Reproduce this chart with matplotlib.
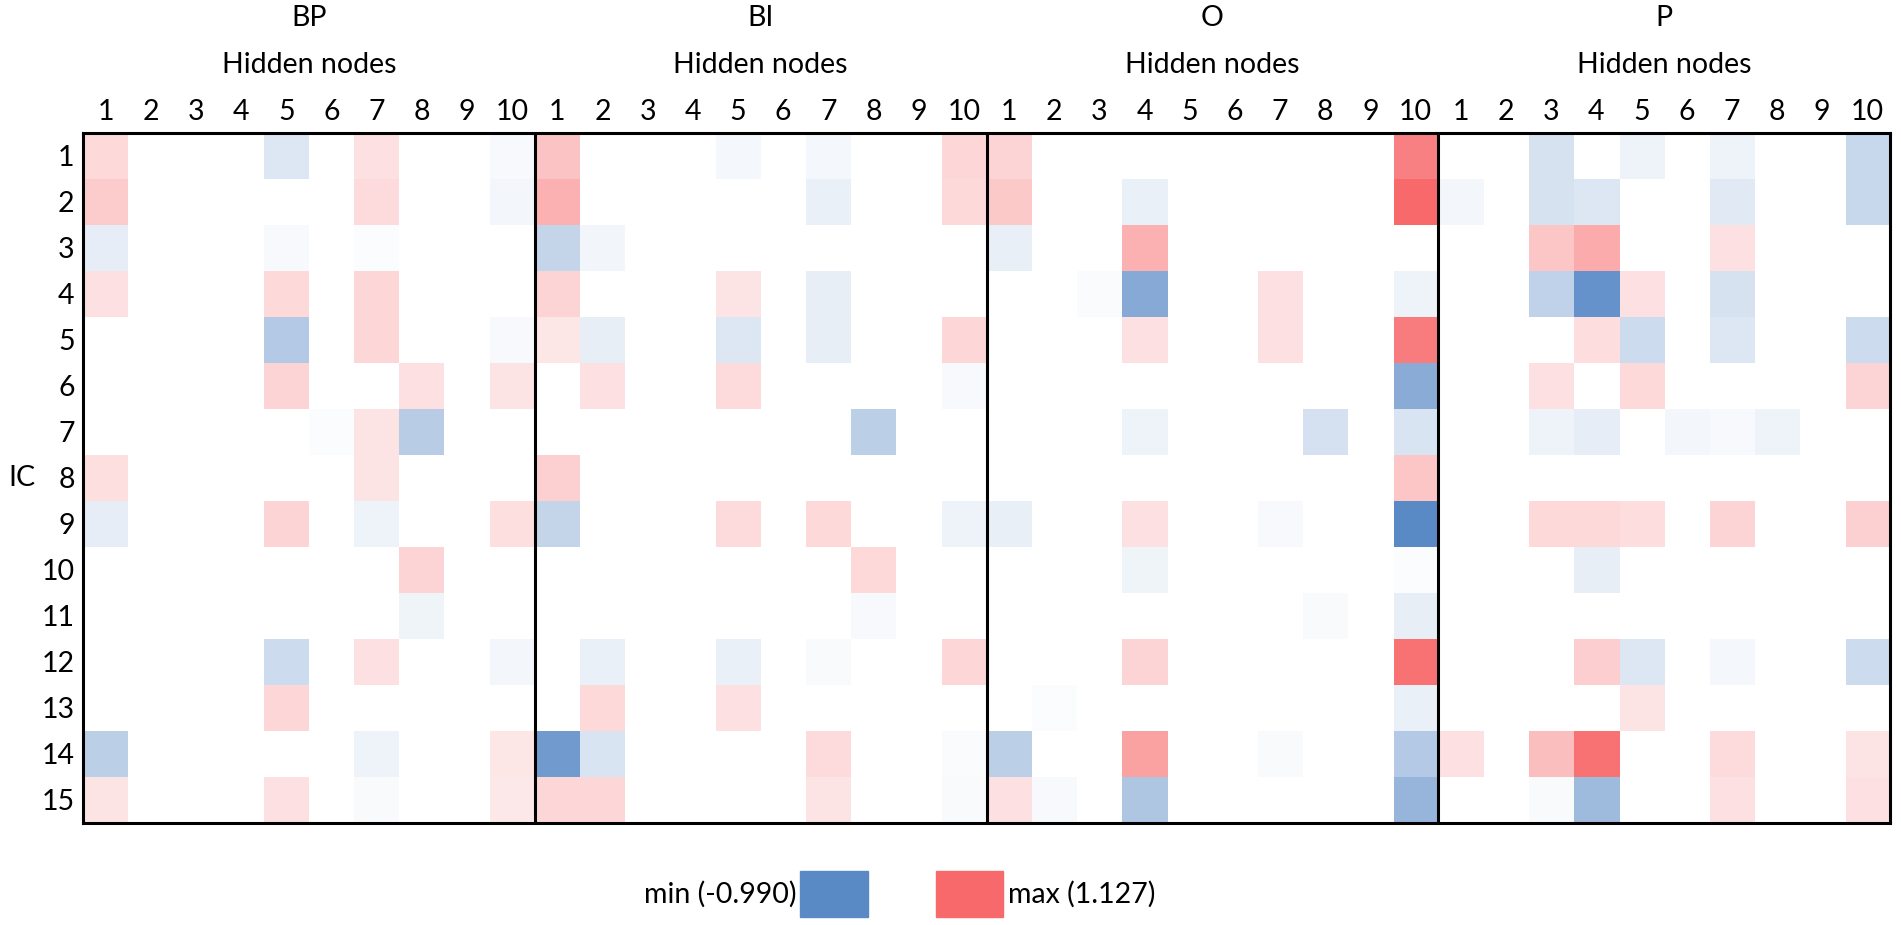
import matplotlib
matplotlib.use("Agg")
import matplotlib.pyplot as plt
import matplotlib.colors as mcolors
from matplotlib.patches import Rectangle
import numpy as np

plt.rcParams['font.family'] = ['Lato', 'DejaVu Sans']

# data, rows = IC 1..15, columns = hidden nodes 1..10
panels = ['BP', 'BI', 'O', 'P']
hidden_nodes = [str(i) for i in range(1, 11)]
ic_labels = [str(i) for i in range(1, 16)]
vmin, vmax = -0.990, 1.127

bp = [
    [0.28, 0, 0, 0, -0.20, 0, 0.22, 0, 0, -0.05],
    [0.38, 0, 0, 0, 0, 0, 0.26, 0, 0, -0.07],
    [-0.15, 0, 0, 0, -0.05, 0, -0.02, 0, 0, 0],
    [0.22, 0, 0, 0, 0.28, 0, 0.30, 0, 0, 0],
    [0, 0, 0, 0, -0.45, 0, 0.30, 0, 0, -0.05],
    [0, 0, 0, 0, 0.32, 0, 0, 0.22, 0, 0.20],
    [0, 0, 0, 0, 0, -0.02, 0.20, -0.42, 0, 0],
    [0.24, 0, 0, 0, 0, 0, 0.20, 0, 0, 0],
    [-0.15, 0, 0, 0, 0.32, 0, -0.10, 0, 0, 0.24],
    [0, 0, 0, 0, 0, 0, 0, 0.32, 0, 0],
    [0, 0, 0, 0, 0, 0, 0, -0.09, 0, 0],
    [0, 0, 0, 0, -0.30, 0, 0.22, 0, 0, -0.07],
    [0, 0, 0, 0, 0.30, 0, 0, 0, 0, 0],
    [-0.40, 0, 0, 0, 0, 0, -0.10, 0, 0, 0.18],
    [0.20, 0, 0, 0, 0.22, 0, -0.04, 0, 0, 0.17],
]
bi = [
    [0.45, 0, 0, 0, -0.06, 0, -0.06, 0, 0, 0.30],
    [0.58, 0, 0, 0, 0, 0, -0.12, 0, 0, 0.28],
    [-0.35, -0.08, 0, 0, 0, 0, 0, 0, 0, 0],
    [0.32, 0, 0, 0, 0.20, 0, -0.14, 0, 0, 0],
    [0.18, -0.14, 0, 0, -0.20, 0, -0.14, 0, 0, 0.30],
    [0, 0.22, 0, 0, 0.26, 0, 0, 0, 0, -0.05],
    [0, 0, 0, 0, 0, 0, 0, -0.40, 0, 0],
    [0.35, 0, 0, 0, 0, 0, 0, 0, 0, 0],
    [-0.35, 0, 0, 0, 0.26, 0, 0.28, 0, 0, -0.10],
    [0, 0, 0, 0, 0, 0, 0, 0.28, 0, 0],
    [0, 0, 0, 0, 0, 0, 0, -0.05, 0, 0],
    [0, -0.12, 0, 0, -0.12, 0, -0.04, 0, 0, 0.30],
    [0, 0.28, 0, 0, 0.22, 0, 0, 0, 0, 0],
    [-0.85, -0.22, 0, 0, 0, 0, 0.26, 0, 0, -0.03],
    [0.30, 0.30, 0, 0, 0, 0, 0.20, 0, 0, -0.04],
]
o = [
    [0.32, 0, 0, 0, 0, 0, 0, 0, 0, 0.95],
    [0.40, 0, 0, -0.12, 0, 0, 0, 0, 0, 1.127],
    [-0.13, 0, 0, 0.58, 0, 0, 0, 0, 0, 0],
    [0, 0, -0.03, -0.72, 0, 0, 0.22, 0, 0, -0.10],
    [0, 0, 0, 0.22, 0, 0, 0.22, 0, 0, 0.98],
    [0, 0, 0, 0, 0, 0, 0, 0, 0, -0.70],
    [0, 0, 0, -0.10, 0, 0, 0, -0.25, 0, -0.22],
    [0, 0, 0, 0, 0, 0, 0, 0, 0, 0.42],
    [-0.13, 0, 0, 0.22, 0, 0, -0.05, 0, 0, -0.99],
    [0, 0, 0, -0.09, 0, 0, 0, 0, 0, -0.02],
    [0, 0, 0, 0, 0, 0, 0, -0.04, 0, -0.14],
    [0, 0, 0, 0.32, 0, 0, 0, 0, 0, 1.05],
    [0, -0.02, 0, 0, 0, 0, 0, 0, 0, -0.12],
    [-0.40, 0, 0, 0.70, 0, 0, -0.04, 0, 0, -0.45],
    [0.22, -0.05, 0, -0.48, 0, 0, 0, 0, 0, -0.62],
]
p = [
    [0, 0, -0.24, 0, -0.10, 0, -0.10, 0, 0, -0.32],
    [-0.07, 0, -0.24, -0.20, 0, 0, -0.18, 0, 0, -0.32],
    [0, 0, 0.42, 0.62, 0, 0, 0.22, 0, 0, 0],
    [0, 0, -0.38, -0.92, 0.22, 0, -0.24, 0, 0, 0],
    [0, 0, 0, 0.25, -0.30, 0, -0.20, 0, 0, -0.30],
    [0, 0, 0.22, 0, 0.28, 0, 0, 0, 0, 0.32],
    [0, 0, -0.10, -0.15, 0, -0.07, -0.05, -0.10, 0, 0],
    [0, 0, 0, 0, 0, 0, 0, 0, 0, 0],
    [0, 0, 0.28, 0.28, 0.25, 0, 0.32, 0, 0, 0.35],
    [0, 0, 0, -0.14, 0, 0, 0, 0, 0, 0],
    [0, 0, 0, 0, 0, 0, 0, 0, 0, 0],
    [0, 0, 0, 0.36, -0.20, 0, -0.06, 0, 0, -0.30],
    [0, 0, 0, 0, 0.20, 0, 0, 0, 0, 0],
    [0.22, 0, 0.48, 1.05, 0, 0, 0.26, 0, 0, 0.20],
    [0, 0, -0.04, -0.58, 0, 0, 0.22, 0, 0, 0.22],
]

data = np.hstack([np.array(bp), np.array(bi), np.array(o), np.array(p)])
nrows, ncols = data.shape

# odd number of colours so that 0 lands exactly on white
cmap = mcolors.LinearSegmentedColormap.from_list('bwr_excel', ['#5A8AC6', '#FFFFFF', '#F8696B'], N=257)
norm = mcolors.TwoSlopeNorm(vmin=vmin, vcenter=0, vmax=vmax)

W, H = 1901, 925
fig = plt.figure(figsize=(W / 100, H / 100), dpi=100)
ax = fig.add_axes([83 / W, 1 - 823 / H, (1890 - 83) / W, (823 - 133) / H])

ax.imshow(data, cmap=cmap, norm=norm, aspect='auto', interpolation='nearest',
          extent=(0, ncols, nrows, 0))
ax.set_xlim(0, ncols)
ax.set_ylim(nrows, 0)

for s in ax.spines.values():
    s.set_linewidth(2.2)
    s.set_color('black')
for k in range(1, len(panels)):
    ax.axvline(k * 10, color='black', lw=2.2)

ax.xaxis.tick_top()
ax.set_xticks(np.arange(ncols) + 0.5)
ax.set_xticklabels(hidden_nodes * len(panels), fontsize=20.5)
ax.set_yticks(np.arange(nrows) + 0.5)
ax.set_yticklabels(ic_labels, fontsize=20.5)
ax.tick_params(length=0, pad=6)

trans = ax.get_xaxis_transform()
for k, name in enumerate(panels):
    xc = k * 10 + 5
    ax.text(xc, 1 + 68 / 690, 'Hidden nodes', transform=trans, ha='center', va='center', fontsize=20.5)
    ax.text(xc, 1 + 115 / 690, name, transform=trans, ha='center', va='center', fontsize=20.5)

fig.text(22 / W, 1 - 478 / H, 'IC', ha='center', va='center', fontsize=20.5)

# legend boxes at the bottom
y0 = 1 - 917 / H
bh = 46 / H
fig.patches.append(Rectangle((800 / W, y0), 68 / W, bh, transform=fig.transFigure,
                             color=cmap(norm(vmin)), zorder=3))
fig.patches.append(Rectangle((936 / W, y0), 67 / W, bh, transform=fig.transFigure,
                             color=cmap(norm(vmax)), zorder=3))
fig.text(796 / W, y0 + bh / 2, 'min (%.3f)' % vmin, ha='right', va='center', fontsize=20.5)
fig.text(1008 / W, y0 + bh / 2, 'max (%.3f)' % vmax, ha='left', va='center', fontsize=20.5)

fig.savefig('out.png', dpi=100)
